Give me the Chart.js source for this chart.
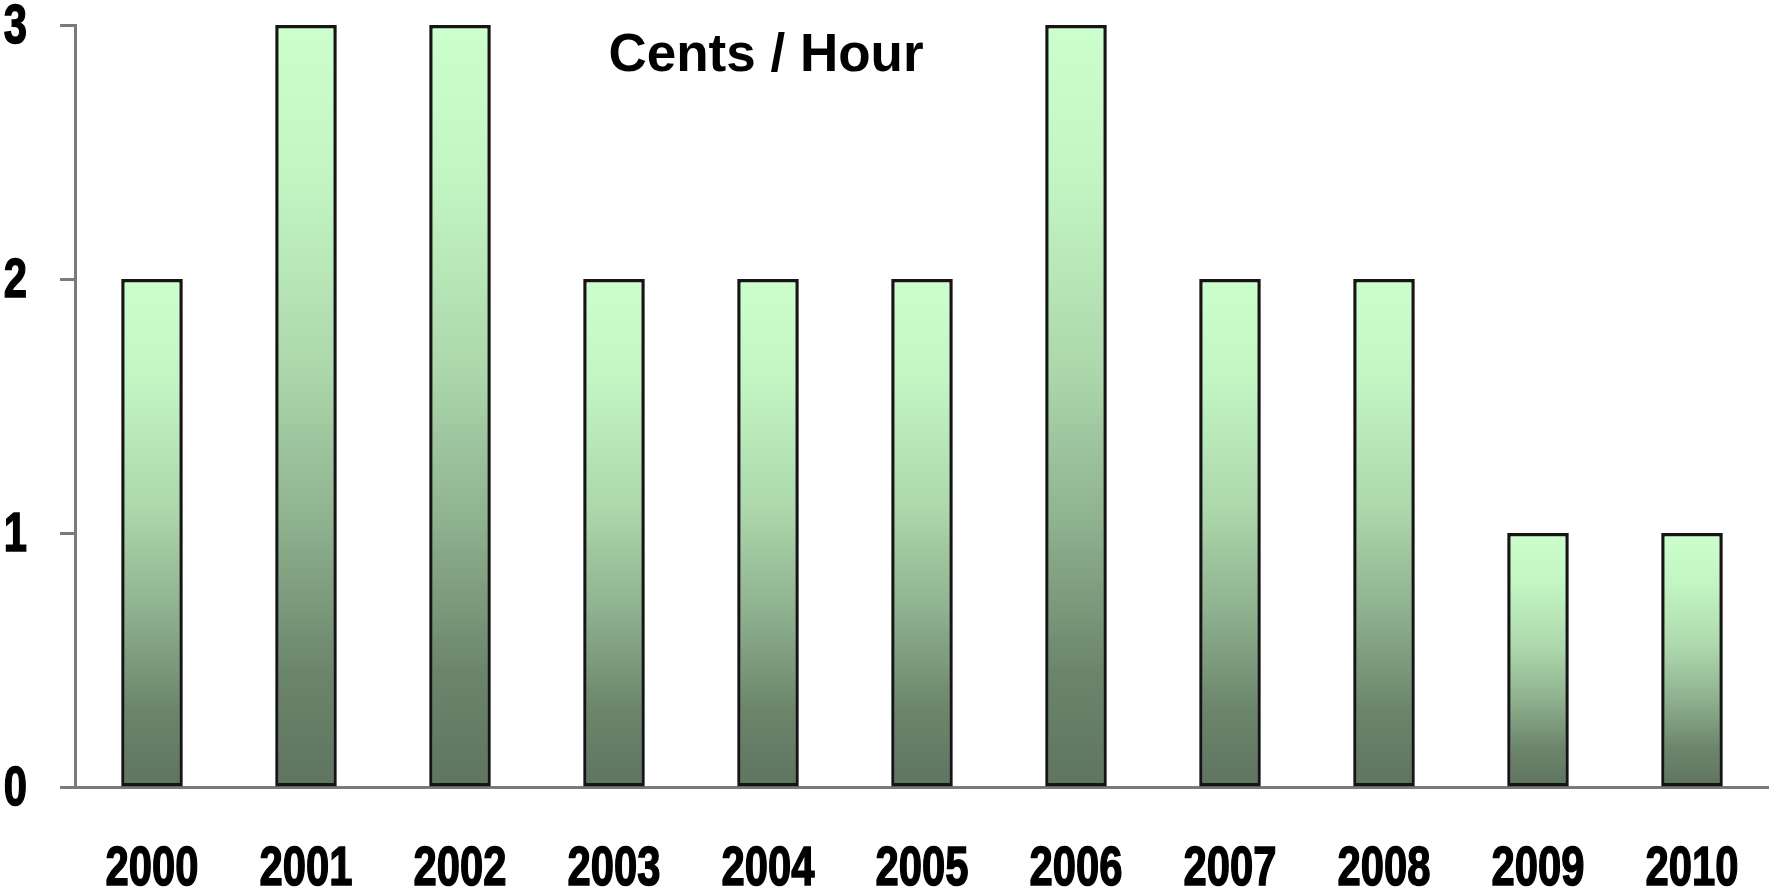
<!DOCTYPE html>
<html>
<head>
<meta charset="utf-8">
<script src="https://cdn.jsdelivr.net/npm/chart.js@4/dist/chart.umd.min.js"></script>
<style>
  body { margin: 0; background: #fff; }
</style>
</head>
<body>
<canvas id="wageChart" width="1769" height="891"></canvas>
<script>
var years = ['2000', '2001', '2002', '2003', '2004', '2005', '2006', '2007', '2008', '2009', '2010'];
var centsPerHour = [2, 3, 3, 2, 2, 2, 3, 2, 2, 1, 1];
var yTicks = [0, 1, 2, 3];
var chartTitle = 'Cents / Hour';

var labelFont = "bold 55px 'Liberation Sans', Arial, sans-serif";
var squeeze = 0.76; // no narrow font installed, so squeeze the bold face by hand

// title sits inside the plot, left of centre
var titlePlugin = {
    id: 'innerTitle',
    afterDraw: function(chart) {
        var ctx = chart.ctx;
        ctx.save();
        ctx.font = "bold 53px 'Liberation Sans', Arial, sans-serif";
        ctx.fillStyle = '#000';
        ctx.textAlign = 'center';
        ctx.textBaseline = 'middle';
        ctx.fillText(chartTitle, 766, 56);
        ctx.restore();
    }
};

// condensed tick labels, placed from the scales' own tick positions
function heavyText(ctx, text, x, y) {
    ctx.save();
    ctx.translate(x, y);
    ctx.scale(squeeze, 1);
    ctx.fillText(text, 0, 0);
    ctx.strokeText(text, 0, 0);
    ctx.restore();
}

var narrowTicks = {
    id: 'narrowTicks',
    afterDraw: function(chart) {
        var ctx = chart.ctx;
        var xs = chart.scales.x, ys = chart.scales.y;
        ctx.save();
        ctx.font = labelFont;
        ctx.fillStyle = '#000';
        ctx.strokeStyle = '#000';
        ctx.lineWidth = 1.5;
        ctx.textBaseline = 'alphabetic';

        ctx.textAlign = 'center';
        xs.ticks.forEach(function(t, i) {
            heavyText(ctx, xs.getLabelForValue(t.value), xs.getPixelForTick(i), xs.bottom - 6);
        });

        ctx.textAlign = 'right';
        ys.ticks.forEach(function(t) {
            heavyText(ctx, String(t.value), ys.right - 48, ys.getPixelForValue(t.value) + 18);
        });
        ctx.restore();
    }
};

function barGradient(context) {
    var chart = context.chart;
    if (!chart.chartArea || context.raw === undefined) return '#99cc99';
    var y = chart.scales.y;
    var top = y.getPixelForValue(context.raw);
    var bottom = y.getPixelForValue(0);
    var g = chart.ctx.createLinearGradient(0, top, 0, bottom);
    g.addColorStop(0, '#ccffcc');
    g.addColorStop(0.2, '#c3f5c3');
    g.addColorStop(0.45, '#acd8ac');
    g.addColorStop(0.65, '#8fb28f');
    g.addColorStop(0.85, '#6b856b');
    g.addColorStop(1, '#5e7560');
    return g;
}

var ctx = document.getElementById('wageChart').getContext('2d');
var wageChart = new Chart(ctx, {
    type: 'bar',
    data: {
        labels: years,
        datasets: [{
            label: chartTitle,
            data: centsPerHour,
            backgroundColor: barGradient,
            borderColor: '#151515',
            borderWidth: 3.5,
            borderSkipped: false,
            barPercentage: 0.4,
            categoryPercentage: 1.0
        }]
    },
    options: {
        responsive: false,
        animation: false,
        layout: { padding: { top: 25, right: 0, left: 0, bottom: 0 } },
        plugins: {
            legend: { display: false },
            title: { display: false },
            tooltip: { enabled: false }
        },
        scales: {
            x: {
                grid: { drawOnChartArea: false, drawTicks: false },
                border: { display: true, color: '#7a7a7a', width: 3 },
                ticks: { display: false },
                afterFit: function(scale) { scale.height = 104; }
            },
            y: {
                min: 0,
                max: 3,
                afterBuildTicks: function(scale) {
                    scale.ticks = yTicks.map(function(v) { return { value: v }; });
                },
                grid: { drawOnChartArea: false, drawTicks: true, tickLength: 15, tickColor: '#7a7a7a', tickWidth: 3 },
                border: { display: true, color: '#7a7a7a', width: 3 },
                ticks: { display: false },
                afterFit: function(scale) { scale.width = 75; }
            }
        }
    },
    plugins: [titlePlugin, narrowTicks]
});
</script>
</body>
</html>
